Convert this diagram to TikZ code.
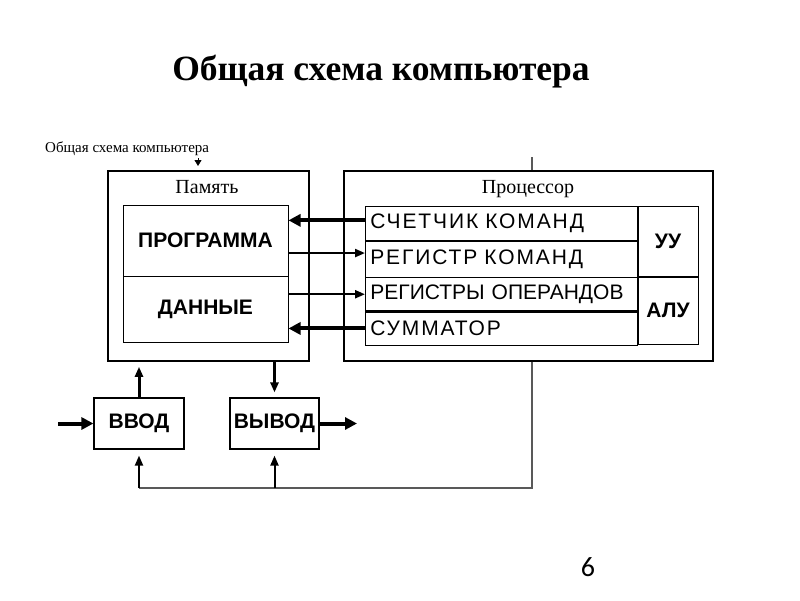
\documentclass[tikz,border=0pt]{standalone}
\usepackage{fontspec}
\setmainfont{Liberation Serif}
\newfontfamily\blockfont{Liberation Sans}
\newfontfamily\regfont[LetterSpace=9]{Liberation Sans}
\newfontfamily\numfont{Carlito}
\usetikzlibrary{arrows.meta}

\begin{document}
\begin{tikzpicture}[x=1pt, y=-1pt,
		bigbox/.style={draw, line width=1.6pt, inner sep=0pt},
		unit/.style={draw, line width=1pt, inner sep=0pt, font=\blockfont\bfseries\fontsize{21}{24}\selectfont},
		regrow/.style={draw, line width=0.7pt, minimum width=272pt, text width=262pt, inner xsep=5pt, inner ysep=0pt, align=left, anchor=north west, font=\regfont\fontsize{21}{23}\selectfont},
		heavy/.style={line width=4pt, -{Triangle[length=12pt, width=12pt]}},
		light/.style={line width=2.2pt, -{Triangle[length=10pt, width=8pt]}},
		feed/.style={line width=1.2pt, black!65},
		upar/.style={line width=2pt, -{Triangle[length=10pt, width=8pt]}}]
		\useasboundingbox (0,0) rectangle (800,600);

		\node[anchor=base, font=\bfseries\fontsize{35.5}{40}\selectfont] (title) at (381,80) {Общая схема компьютера};
		\node[anchor=base west, inner sep=0pt, font=\fontsize{15}{17}\selectfont] (caption) at (45,152) {Общая схема компьютера};
		\coordinate (mark) at (198,158);
		\draw[line width=0.8pt, -{Triangle[length=6pt, width=7pt]}] (mark) -- ++(0,8);

		\node[bigbox, minimum width=201pt, minimum height=190pt] (mem) at (208.5,266) {};
		\node[anchor=base, font=\fontsize{20}{22}\selectfont] (memlabel) at (207,193) {Память};
		\node[unit, minimum width=165pt, minimum height=71pt] (prog) at (205.5,240.5) {ПРОГРАММА};
		\node[unit, minimum width=165pt, minimum height=66pt] (data) at (205.5,309) {ДАННЫЕ};

		\node[bigbox, minimum width=369pt, minimum height=190pt] (cpu) at (528.5,266) {};
		\node[anchor=base, font=\fontsize{20}{22}\selectfont] (cpulabel) at (528,193) {Процессор};
		\node[regrow, minimum height=34pt] (row1) at (365,206) {СЧЕТЧИК КОМАНД};
		\node[regrow, minimum height=36pt] (row2) at (row1.south west) {РЕГИСТР КОМАНД};
		\node[regrow, minimum height=33pt, font=\blockfont\fontsize{21}{23}\selectfont] (row3) at (row2.south west) {РЕГИСТРЫ ОПЕРАНДОВ};
		\node[regrow, minimum height=34pt] (row4) at (row3.south west) {СУММАТОР};
		\node[unit, line width=0.7pt, minimum width=60pt, minimum height=70pt, anchor=north west] (uu) at (row1.north east) {УУ};
		\node[unit, line width=0.7pt, minimum width=60pt, minimum height=67pt, anchor=north west] (alu) at (uu.south west) {АЛУ};
		\draw[line width=3pt] (row3.south west) -- (row3.south east);

		\coordinate (c1) at ([yshift=3pt]row1.west);
		\coordinate (c2) at ([yshift=6pt]row2.west);
		\draw[heavy] (c1) -- (c1 -| prog.east);
		\draw[light] (c2 -| prog.east) -- (c2);
		\draw[light] (row3.west -| data.east) -- (row3.west);
		\draw[heavy] (row4.west) -- (row4.west -| data.east);

		\node[unit, line width=1.2pt, minimum width=90pt, minimum height=51pt] (in) at (139,423.5) {ВВОД};
		\node[unit, line width=1.2pt, minimum width=89pt, minimum height=51pt] (out) at (274.5,423.5) {ВЫВОД};
		\coordinate (src) at (58,423.5);
		\coordinate (dst) at (357,423.5);
		\draw[heavy] (src) -- (in.west);
		\draw[heavy] (out.east) -- (dst);
		\draw[upar, line width=3pt] (in.north) -- ([yshift=-5pt]in.north |- mem.south);
		\draw[upar, line width=3pt] (mem.south -| out.north) -- ([yshift=5pt]out.north);

		\coordinate (fbtop) at (532,157);
		\coordinate (fbbot) at (532,488);
		\draw[feed] (fbtop) -- (fbtop |- cpu.north);
		\draw[feed] (fbbot |- cpu.south) -- (fbbot) -- (fbbot -| in.south);
		\draw[upar] (fbbot -| in.south) -- ([yshift=-6pt]in.south);
		\draw[upar] (fbbot -| out.south) -- ([yshift=-6pt]out.south);

		\node[anchor=base, font=\numfont\fontsize{28}{30}\selectfont] (page) at (588,576) {6};
	\end{tikzpicture}
\end{document}
